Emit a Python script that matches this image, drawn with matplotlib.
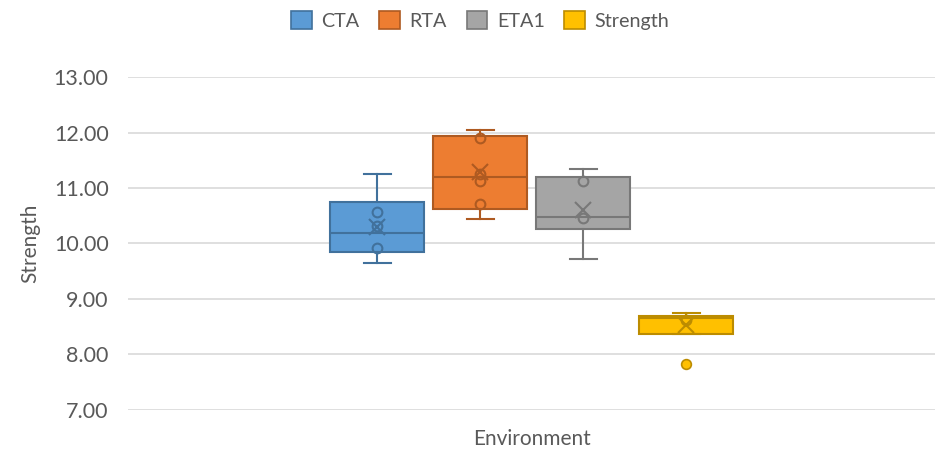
import numpy as np
import matplotlib.pyplot as plt
from matplotlib.patches import Patch

plt.rcParams['font.family'] = ['Lato', 'DejaVu Sans']

# Box statistics per series
series = ['CTA', 'RTA', 'ETA1', 'Strength']
whisker_low = [9.64, 10.44, 9.72, 8.37]
q1 = [9.84, 10.63, 10.27, 8.37]
median = [10.18, 11.20, 10.48, 8.65]
q3 = [10.75, 11.94, 11.19, 8.70]
whisker_high = [11.26, 12.05, 11.34, 8.74]
means = [10.30, 11.28, 10.60, 8.53]
inner_points = [[10.57, 10.32, 9.91],
                [11.90, 11.25, 11.13, 10.71],
                [11.13, 10.46],
                [8.62]]
outliers = [[], [], [], [7.82]]

fill_colors = ['#5B9BD5', '#ED7D31', '#A5A5A5', '#FFC000']
edge_colors = ['#41719C', '#AE5A21', '#787878', '#BC8C00']

fig = plt.figure(figsize=(9.42, 4.53), dpi=100)
ax = fig.add_axes([0.136, 0.095, 0.857, 0.735])

positions = np.arange(len(series)) - 1.5
width = 0.91

for i, name in enumerate(series):
    stats = [{'whislo': whisker_low[i], 'q1': q1[i], 'med': median[i],
              'q3': q3[i], 'whishi': whisker_high[i], 'fliers': []}]
    ec = edge_colors[i]
    ax.bxp(stats, positions=[positions[i]], widths=width, patch_artist=True,
           showfliers=False,
           boxprops=dict(facecolor=fill_colors[i], edgecolor=ec, linewidth=1.5),
           medianprops=dict(color=ec, linewidth=1.5),
           whiskerprops=dict(color=ec, linewidth=1.5),
           capprops=dict(color=ec, linewidth=1.5),
           capwidths=0.26, zorder=3)
    pts = inner_points[i]
    ax.plot([positions[i]] * len(pts), pts, 'o', ms=7, mfc='none',
            mec=ec, mew=1.5, zorder=4)
    ax.plot(positions[i], means[i], 'x', ms=12, mec=ec, mew=1.5, zorder=4)
    if outliers[i]:
        ax.plot([positions[i]] * len(outliers[i]), outliers[i], 'o', ms=7,
                mfc=fill_colors[i], mec=ec, mew=1.2, zorder=4)

ax.set_xlim(-3.92, 3.92)
ax.set_ylim(7, 13)
ax.set_yticks(np.arange(7, 13.01, 1))
ax.set_yticklabels([f'{v:.2f}' for v in np.arange(7, 13.01, 1)])
ax.set_xticks([])
ax.grid(axis='y', color='#D9D9D9', linewidth=1.2)
ax.set_axisbelow(True)
for s in ax.spines.values():
    s.set_visible(False)
ax.tick_params(axis='y', length=0, labelsize=15.5, labelcolor='#595959', pad=14)
ax.set_ylabel('Strength', fontsize=15, color='#595959', labelpad=10)
ax.set_xlabel('Environment', fontsize=15, color='#595959', labelpad=14)

handles = [Patch(facecolor=fc, edgecolor=ec, linewidth=1.2)
           for fc, ec in zip(fill_colors, edge_colors)]
fig.legend(handles, series, loc='upper center', bbox_to_anchor=(0.51, 1.015),
           ncol=4, frameon=False, fontsize=14.2, handlelength=1.03,
           handleheight=1.03, columnspacing=1.0, handletextpad=0.5,
           labelcolor='#595959')

fig.savefig('out.png', dpi=100)
